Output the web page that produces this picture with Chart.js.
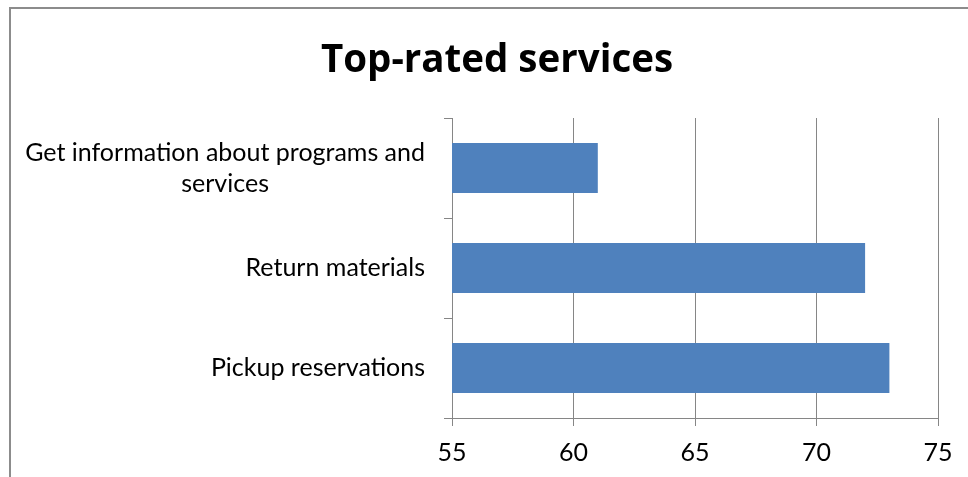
<!DOCTYPE html>
<html><head><meta charset="utf-8">
<script src="https://cdn.jsdelivr.net/npm/chart.js@4"></script>
<style>
html,body{margin:0;padding:0;background:#fff;overflow:hidden}
#frame{position:absolute;left:9px;top:7px;width:1000px;height:500px;border-left:2px solid #8c8c8c;border-top:2px solid #8c8c8c;box-sizing:border-box}
#wrap{position:absolute;left:0;top:0;width:968px;height:477px}
</style></head><body>
<div id="frame"></div>
<div id="wrap"><canvas id="c" width="968" height="477"></canvas></div>
<script>
const categories = [["Get information about programs and", "services"], "Return materials", "Pickup reservations"];
const values = [61, 72, 73];
const xTicks = [55, 60, 65, 70, 75];
const titleText = "Top-rated services";

const LABEL_FONT = "25px Lato";
const yLabelPlugin = {
  id: 'yLabels',
  afterDraw(chart) {
    const ctx = chart.ctx;
    const ys = chart.scales.y;
    const rightX = ys.right - 8 - 19;
    ctx.save();
    ctx.font = LABEL_FONT;
    ctx.fillStyle = '#000';
    ctx.textBaseline = 'middle';
    ctx.textAlign = 'center';
    const lh = 31;
    categories.forEach((lab, i) => {
      const lines = Array.isArray(lab) ? lab : [lab];
      const w = Math.max(...lines.map(l => ctx.measureText(l).width));
      const cx = rightX - w / 2;
      const cy = ys.getPixelForValue(i);
      lines.forEach((l, j) => {
        ctx.fillText(l, cx, cy + (j - (lines.length - 1) / 2) * lh);
      });
    });
    ctx.restore();
  }
};

new Chart(document.getElementById('c'), {
  type: 'bar',
  data: {
    labels: categories,
    datasets: [{
      data: values,
      backgroundColor: '#4F81BD',
      borderWidth: 0,
      barPercentage: 0.5,
      categoryPercentage: 1.0
    }]
  },
  options: {
    indexAxis: 'y',
    responsive: false,
    animation: false,
    devicePixelRatio: 1,
    layout: { padding: { left: 56, right: 30, top: 0, bottom: 0 } },
    plugins: {
      legend: { display: false },
      tooltip: { enabled: false },
      title: {
        display: true,
        text: titleText,
        color: '#000',
        font: { family: 'Open Sans', size: 38.5, weight: 'bold', lineHeight: 1.2 },
        padding: { top: 38, bottom: 33.8 }
      }
    },
    scales: {
      x: {
        min: 55, max: 75,
        afterFit(s) { s.height = 59; },
        afterBuildTicks(s) { s.ticks = xTicks.map(v => ({ value: v })); },
        ticks: { color: '#000', font: { family: 'Lato', size: 25 }, padding: 12, maxRotation: 0 },
        grid: { color: '#868686', lineWidth: 1, tickLength: 8, drawTicks: true },
        border: { color: '#868686', width: 1 }
      },
      y: {
        afterFit(s) { s.width = 396; },
        ticks: { display: false },
        grid: { drawOnChartArea: false, color: '#868686', tickLength: 8, offset: true },
        border: { color: '#868686', width: 1 }
      }
    }
  },
  plugins: [yLabelPlugin]
});
</script>
</body></html>
